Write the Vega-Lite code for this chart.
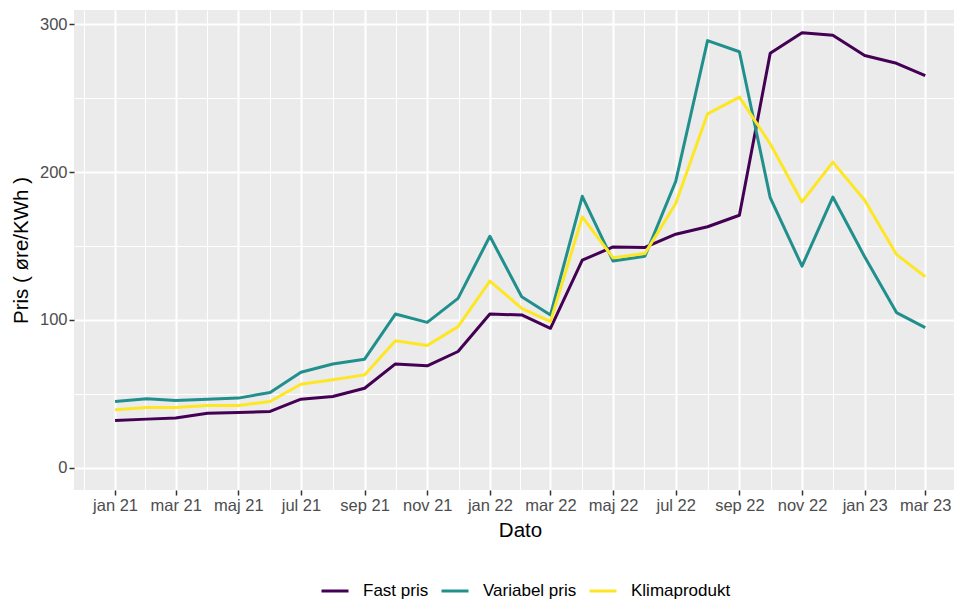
{
  "$schema": "https://vega.github.io/schema/vega-lite/v6.json",
  "autosize": {"type": "none"},
  "padding": {"left": 74, "top": 10, "right": 0, "bottom": 110},
  "width": 880,
  "height": 480,
  "background": "white",
  "config": {
    "font": "Liberation Sans",
    "view": {"fill": "#EBEBEB", "stroke": null}
  },
  "data": {
    "values": [
      {"dato": "2021-01-01", "serie": "Fast pris", "pris": 32.1},
      {"dato": "2021-02-01", "serie": "Fast pris", "pris": 33.0},
      {"dato": "2021-03-01", "serie": "Fast pris", "pris": 33.7},
      {"dato": "2021-04-01", "serie": "Fast pris", "pris": 37.0},
      {"dato": "2021-05-01", "serie": "Fast pris", "pris": 37.5},
      {"dato": "2021-06-01", "serie": "Fast pris", "pris": 38.2},
      {"dato": "2021-07-01", "serie": "Fast pris", "pris": 46.5},
      {"dato": "2021-08-01", "serie": "Fast pris", "pris": 48.3},
      {"dato": "2021-09-01", "serie": "Fast pris", "pris": 53.9},
      {"dato": "2021-10-01", "serie": "Fast pris", "pris": 70.3},
      {"dato": "2021-11-01", "serie": "Fast pris", "pris": 69.0},
      {"dato": "2021-12-01", "serie": "Fast pris", "pris": 78.7},
      {"dato": "2022-01-01", "serie": "Fast pris", "pris": 104.0},
      {"dato": "2022-02-01", "serie": "Fast pris", "pris": 103.4},
      {"dato": "2022-03-01", "serie": "Fast pris", "pris": 94.4},
      {"dato": "2022-04-01", "serie": "Fast pris", "pris": 140.4},
      {"dato": "2022-05-01", "serie": "Fast pris", "pris": 149.4},
      {"dato": "2022-06-01", "serie": "Fast pris", "pris": 149.0},
      {"dato": "2022-07-01", "serie": "Fast pris", "pris": 158.0},
      {"dato": "2022-08-01", "serie": "Fast pris", "pris": 163.0},
      {"dato": "2022-09-01", "serie": "Fast pris", "pris": 170.8},
      {"dato": "2022-10-01", "serie": "Fast pris", "pris": 280.2},
      {"dato": "2022-11-01", "serie": "Fast pris", "pris": 294.2},
      {"dato": "2022-12-01", "serie": "Fast pris", "pris": 292.4},
      {"dato": "2023-01-01", "serie": "Fast pris", "pris": 278.7},
      {"dato": "2023-02-01", "serie": "Fast pris", "pris": 273.5},
      {"dato": "2023-03-01", "serie": "Fast pris", "pris": 265.2},
      {"dato": "2021-01-01", "serie": "Variabel pris", "pris": 44.9},
      {"dato": "2021-02-01", "serie": "Variabel pris", "pris": 46.7},
      {"dato": "2021-03-01", "serie": "Variabel pris", "pris": 45.6},
      {"dato": "2021-04-01", "serie": "Variabel pris", "pris": 46.5},
      {"dato": "2021-05-01", "serie": "Variabel pris", "pris": 47.2},
      {"dato": "2021-06-01", "serie": "Variabel pris", "pris": 51.0},
      {"dato": "2021-07-01", "serie": "Variabel pris", "pris": 64.7},
      {"dato": "2021-08-01", "serie": "Variabel pris", "pris": 70.3},
      {"dato": "2021-09-01", "serie": "Variabel pris", "pris": 73.5},
      {"dato": "2021-10-01", "serie": "Variabel pris", "pris": 104.0},
      {"dato": "2021-11-01", "serie": "Variabel pris", "pris": 98.4},
      {"dato": "2021-12-01", "serie": "Variabel pris", "pris": 114.6},
      {"dato": "2022-01-01", "serie": "Variabel pris", "pris": 156.6},
      {"dato": "2022-02-01", "serie": "Variabel pris", "pris": 115.7},
      {"dato": "2022-03-01", "serie": "Variabel pris", "pris": 103.4},
      {"dato": "2022-04-01", "serie": "Variabel pris", "pris": 183.6},
      {"dato": "2022-05-01", "serie": "Variabel pris", "pris": 139.8},
      {"dato": "2022-06-01", "serie": "Variabel pris", "pris": 143.1},
      {"dato": "2022-07-01", "serie": "Variabel pris", "pris": 193.7},
      {"dato": "2022-08-01", "serie": "Variabel pris", "pris": 288.8},
      {"dato": "2022-09-01", "serie": "Variabel pris", "pris": 281.3},
      {"dato": "2022-10-01", "serie": "Variabel pris", "pris": 182.7},
      {"dato": "2022-11-01", "serie": "Variabel pris", "pris": 136.4},
      {"dato": "2022-12-01", "serie": "Variabel pris", "pris": 183.1},
      {"dato": "2023-01-01", "serie": "Variabel pris", "pris": 142.7},
      {"dato": "2023-02-01", "serie": "Variabel pris", "pris": 105.0},
      {"dato": "2023-03-01", "serie": "Variabel pris", "pris": 94.8},
      {"dato": "2021-01-01", "serie": "Klimaprodukt", "pris": 39.3},
      {"dato": "2021-02-01", "serie": "Klimaprodukt", "pris": 40.9},
      {"dato": "2021-03-01", "serie": "Klimaprodukt", "pris": 40.9},
      {"dato": "2021-04-01", "serie": "Klimaprodukt", "pris": 42.2},
      {"dato": "2021-05-01", "serie": "Klimaprodukt", "pris": 42.2},
      {"dato": "2021-06-01", "serie": "Klimaprodukt", "pris": 44.9},
      {"dato": "2021-07-01", "serie": "Klimaprodukt", "pris": 56.6},
      {"dato": "2021-08-01", "serie": "Klimaprodukt", "pris": 59.6},
      {"dato": "2021-09-01", "serie": "Klimaprodukt", "pris": 62.9},
      {"dato": "2021-10-01", "serie": "Klimaprodukt", "pris": 86.0},
      {"dato": "2021-11-01", "serie": "Klimaprodukt", "pris": 82.7},
      {"dato": "2021-12-01", "serie": "Klimaprodukt", "pris": 95.5},
      {"dato": "2022-01-01", "serie": "Klimaprodukt", "pris": 126.3},
      {"dato": "2022-02-01", "serie": "Klimaprodukt", "pris": 107.9},
      {"dato": "2022-03-01", "serie": "Klimaprodukt", "pris": 98.9},
      {"dato": "2022-04-01", "serie": "Klimaprodukt", "pris": 169.7},
      {"dato": "2022-05-01", "serie": "Klimaprodukt", "pris": 142.0},
      {"dato": "2022-06-01", "serie": "Klimaprodukt", "pris": 144.9},
      {"dato": "2022-07-01", "serie": "Klimaprodukt", "pris": 178.7},
      {"dato": "2022-08-01", "serie": "Klimaprodukt", "pris": 239.3},
      {"dato": "2022-09-01", "serie": "Klimaprodukt", "pris": 250.6},
      {"dato": "2022-10-01", "serie": "Klimaprodukt", "pris": 219.1},
      {"dato": "2022-11-01", "serie": "Klimaprodukt", "pris": 179.8},
      {"dato": "2022-12-01", "serie": "Klimaprodukt", "pris": 206.7},
      {"dato": "2023-01-01", "serie": "Klimaprodukt", "pris": 180.9},
      {"dato": "2023-02-01", "serie": "Klimaprodukt", "pris": 144.3},
      {"dato": "2023-03-01", "serie": "Klimaprodukt", "pris": 129.2}
    ]
  },
  "mark": {"type": "line", "strokeWidth": 3, "strokeCap": "butt", "strokeJoin": "round"},
  "encoding": {
    "x": {
      "field": "dato",
      "type": "temporal",
      "title": "Dato",
      "scale": {
        "type": "utc",
        "domain": [
          {"year": 2020, "month": 11, "date": 22, "utc": true},
          {"year": 2023, "month": 3, "date": 29, "utc": true}
        ],
        "nice": false
      },
      "axis": {
        "values": [
          {"year": 2020, "month": 12, "date": 1, "hours": 12, "utc": true},
          {"year": 2021, "month": 1, "date": 1, "utc": true},
          {"year": 2021, "month": 1, "date": 30, "hours": 12, "utc": true},
          {"year": 2021, "month": 3, "date": 1, "utc": true},
          {"year": 2021, "month": 3, "date": 31, "hours": 12, "utc": true},
          {"year": 2021, "month": 5, "date": 1, "utc": true},
          {"year": 2021, "month": 5, "date": 31, "hours": 12, "utc": true},
          {"year": 2021, "month": 7, "date": 1, "utc": true},
          {"year": 2021, "month": 8, "date": 1, "utc": true},
          {"year": 2021, "month": 9, "date": 1, "utc": true},
          {"year": 2021, "month": 10, "date": 1, "hours": 12, "utc": true},
          {"year": 2021, "month": 11, "date": 1, "utc": true},
          {"year": 2021, "month": 12, "date": 1, "hours": 12, "utc": true},
          {"year": 2022, "month": 1, "date": 1, "utc": true},
          {"year": 2022, "month": 1, "date": 30, "hours": 12, "utc": true},
          {"year": 2022, "month": 3, "date": 1, "utc": true},
          {"year": 2022, "month": 3, "date": 31, "hours": 12, "utc": true},
          {"year": 2022, "month": 5, "date": 1, "utc": true},
          {"year": 2022, "month": 5, "date": 31, "hours": 12, "utc": true},
          {"year": 2022, "month": 7, "date": 1, "utc": true},
          {"year": 2022, "month": 8, "date": 1, "utc": true},
          {"year": 2022, "month": 9, "date": 1, "utc": true},
          {"year": 2022, "month": 10, "date": 1, "hours": 12, "utc": true},
          {"year": 2022, "month": 11, "date": 1, "utc": true},
          {"year": 2022, "month": 12, "date": 1, "hours": 12, "utc": true},
          {"year": 2023, "month": 1, "date": 1, "utc": true},
          {"year": 2023, "month": 1, "date": 30, "hours": 12, "utc": true},
          {"year": 2023, "month": 3, "date": 1, "utc": true}
        ],
        "labelExpr": "(utcdate(datum.value) == 1 && utchours(datum.value) == 0 && utcmonth(datum.value) % 2 == 0) ? replace(lower(utcFormat(datum.value, '%b %y')), 'may', 'maj') : ''",
        "domain": false,
        "grid": true,
        "gridColor": "white",
        "gridWidth": {"condition": {"test": "utcdate(datum.value) == 1 && utchours(datum.value) == 0 && utcmonth(datum.value) % 2 == 0", "value": 2}, "value": 1},
        "tickColor": "#333333",
        "tickWidth": 1.5,
        "tickSize": 5,
        "tickOpacity": {"condition": {"test": "utcdate(datum.value) == 1 && utchours(datum.value) == 0 && utcmonth(datum.value) % 2 == 0", "value": 1}, "value": 0},
        "labelFontSize": 16.5,
        "labelColor": "#4D4D4D",
        "labelPadding": 2,
        "labelFlush": false,
        "labelOverlap": false,
        "titleFontSize": 20.5,
        "titleFontWeight": "normal",
        "titleColor": "black",
        "titleX": 446,
        "titleY": 40,
        "titleAlign": "center",
        "titleBaseline": "middle"
      }
    },
    "y": {
      "field": "pris",
      "type": "quantitative",
      "title": "Pris ( øre/KWh )",
      "scale": {"domain": [-14.9, 309.5], "nice": false, "zero": false},
      "axis": {
        "values": [0, 50, 100, 150, 200, 250, 300],
        "labelExpr": "datum.value % 100 == 0 ? datum.label : ''",
        "domain": false,
        "grid": true,
        "gridColor": "white",
        "gridWidth": {"condition": {"test": "datum.value % 100 == 0", "value": 2}, "value": 1},
        "tickColor": "#333333",
        "tickWidth": 1.5,
        "tickSize": 5,
        "tickOpacity": {"condition": {"test": "datum.value % 100 == 0", "value": 1}, "value": 0},
        "labelFontSize": 16.5,
        "labelColor": "#4D4D4D",
        "labelPadding": 2,
        "labelFlush": false,
        "titleFontSize": 20.5,
        "titleFontWeight": "normal",
        "titleColor": "black",
        "titleX": -53,
        "titleY": 240,
        "titleAngle": -90,
        "titleAlign": "center",
        "titleBaseline": "middle"
      }
    },
    "color": {
      "field": "serie",
      "type": "nominal",
      "title": null,
      "sort": ["Fast pris", "Variabel pris", "Klimaprodukt"],
      "scale": {
        "domain": ["Fast pris", "Variabel pris", "Klimaprodukt"],
        "range": ["#440154", "#21908C", "#FDE725"]
      },
      "legend": {
        "orient": "none",
        "direction": "horizontal",
        "legendX": 246,
        "legendY": 566,
        "symbolType": "stroke",
        "symbolSize": 729,
        "symbolStrokeWidth": 3,
        "labelFontSize": 17,
        "labelColor": "black",
        "labelOffset": 13,
        "columnPadding": 6
      }
    }
  }
}
